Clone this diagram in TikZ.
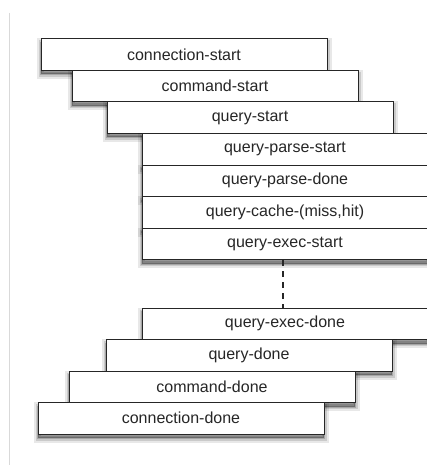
\documentclass[tikz,border=0pt]{standalone}
\usepackage{fontspec}
\setmainfont{Liberation Sans}
\usetikzlibrary{shadows}

\begin{document}
\begin{tikzpicture}[x=1pt, y=-1pt,
        soft/.style={
            general shadow={draw=black, fill=black, line width=9pt,
                opacity=0.09, shadow yshift=-4pt},
            general shadow={draw=black, fill=black, line width=5pt,
                opacity=0.13, shadow yshift=-4pt},
            general shadow={draw=black, fill=black, line width=2pt,
                opacity=0.18, shadow yshift=-4pt}},
        probe/.style={soft, draw=black!85, line width=1pt, fill=white, rectangle,
            minimum width=286pt, minimum height=31.5pt, inner sep=0pt,
            font=\fontsize{16}{19}\selectfont, text=black!85}]
        \useasboundingbox (0,0) rectangle (427,465);

        % Page margin line
        \draw[black!15, line width=0.8pt] (9,13) -- (9,465);

        % Entry probes (stepping in)
        \node[probe] (cstart)   at (184,54.75)  {connection-start};
        \node[probe] (cmdstart) at (215,86.25)  {command-start};
        \node[probe] (qstart)   at (250,117.75) {query-start};

        % Query processing probes
        \node[probe] (qparsestart) at (285,149.25) {query-parse-start};
        \node[probe] (qparsedone)  at (285,180.75) {query-parse-done};
        \node[probe] (qcache)      at (285,212.25) {query-cache-(miss,hit)};
        \node[probe] (qexecstart)  at (285,243.75) {query-exec-start};

        % Exit probes (stepping out)
        \node[probe] (qexecdone) at (285,323.75) {query-exec-done};
        \node[probe] (qdone)     at (249,355.25) {query-done};
        \node[probe] (cmddone)   at (212,386.75) {command-done};
        \node[probe] (cdone)     at (181,418.25) {connection-done};

        % Execution gap
        \draw[black!85, line width=1.2pt, dash pattern=on 6pt off 5pt]
            ([xshift=-2pt]qexecstart.south) -- ([xshift=-2pt]qexecdone.north);
\end{tikzpicture}
\end{document}
